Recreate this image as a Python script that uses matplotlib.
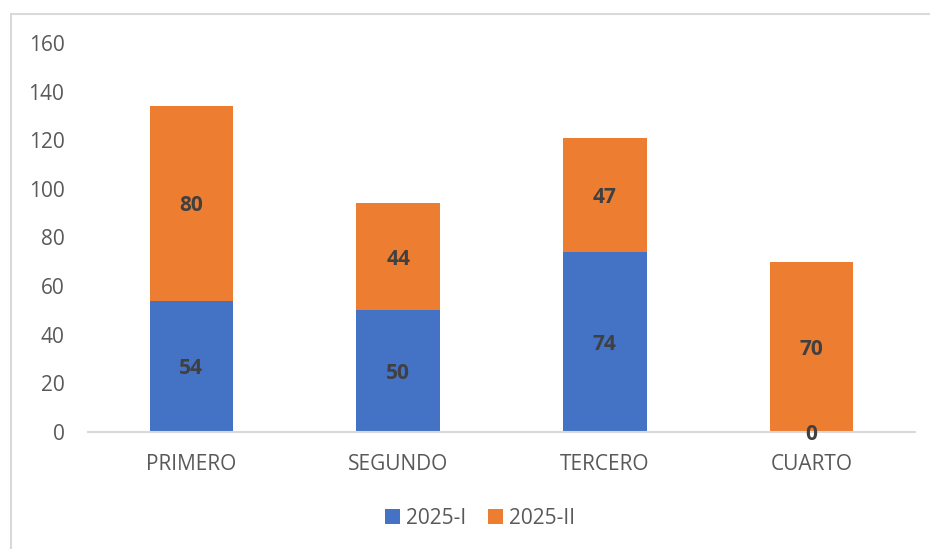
import matplotlib
matplotlib.use("Agg")
import matplotlib.pyplot as plt
from matplotlib.patches import Rectangle

categories = ["PRIMERO", "SEGUNDO", "TERCERO", "CUARTO"]
series_names = ["2025-I", "2025-II"]
s1 = [54, 50, 74, 0]
s2 = [80, 44, 47, 70]
yticks = [0, 20, 40, 60, 80, 100, 120, 140, 160]

c1 = "#4472C4"
c2 = "#ED7D31"
txt = "#595959"

plt.rcParams['font.family'] = ['Open Sans', 'DejaVu Sans']

fig = plt.figure(figsize=(9.3, 5.49), dpi=100)
fig.patches.append(Rectangle((11/930, -0.1), 1.2, 1 - 14/549 + 0.1, transform=fig.transFigure,
                             fill=False, edgecolor="#d9d9d9", linewidth=1.5))
ax = fig.add_axes([88/930, 1 - 432/549, 827/930, (432 - 43)/549])

x = list(range(len(categories)))
w = 0.405
b1 = ax.bar(x, s1, width=w, color=c1, label=series_names[0])
b2 = ax.bar(x, s2, width=w, bottom=s1, color=c2, label=series_names[1])

for i in x:
    ax.text(i, s1[i] / 2, str(s1[i]), ha="center", va="center_baseline", fontsize=15,
            fontweight="bold", color="#404040")
    ax.text(i, s1[i] + s2[i] / 2, str(s2[i]), ha="center", va="center_baseline", fontsize=15,
            fontweight="bold", color="#404040")

ax.set_xlim(-0.5, 3.5)
ax.set_ylim(0, 160)
ax.set_yticks(yticks)
ax.set_xticks(x)
ax.set_xticklabels(categories)
ax.tick_params(axis="both", length=0, labelsize=15, labelcolor=txt)
ax.tick_params(axis="y", pad=17)
ax.tick_params(axis="x", pad=16)
for s in ["top", "right", "left"]:
    ax.spines[s].set_visible(False)
ax.spines["bottom"].set_color("#d9d9d9")
ax.spines["bottom"].set_linewidth(1.5)

leg = fig.legend(handles=[b1, b2], labels=series_names, loc="center",
                 bbox_to_anchor=(480/930, 1 - 518/549), ncol=2, frameon=False,
                 fontsize=15, handlelength=0.7, handleheight=0.7, columnspacing=1.05,
                 handletextpad=0.3)
for t in leg.get_texts():
    t.set_color(txt)

fig.savefig("out.png", dpi=100)
